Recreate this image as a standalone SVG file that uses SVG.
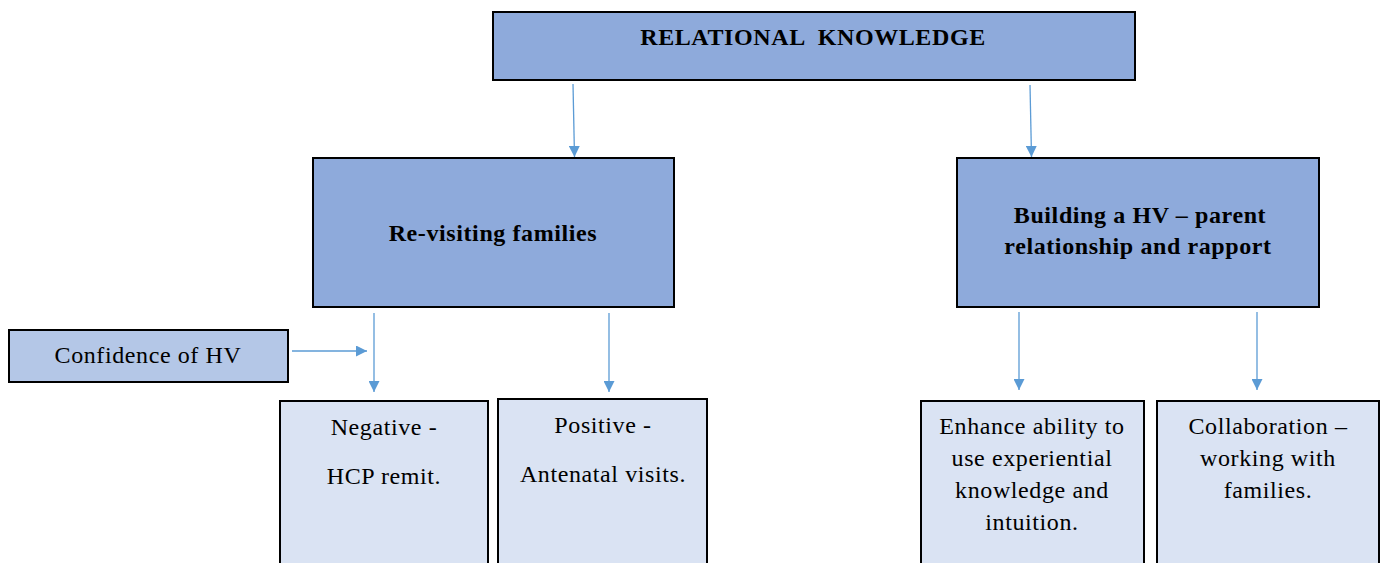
<svg xmlns="http://www.w3.org/2000/svg" width="1384" height="563" viewBox="0 0 1384 563">
  <style>
    .box { stroke: #000; stroke-width: 2; }
    .main { fill: #8eaadb; }
    .side { fill: #b4c7e7; }
    .leaf { fill: #dae3f3; }
    text { font-family: "Liberation Serif", "Times New Roman", serif; font-size: 24px; letter-spacing: 0.6px; fill: #000; text-anchor: middle; white-space: pre; }
    .bold { font-weight: bold; }
    .conn { stroke: #5b9bd5; stroke-width: 1.3; fill: none; marker-end: url(#arrow); }
  </style>
  <defs>
    <marker id="arrow" viewBox="0 0 10 10" refX="10" refY="5" markerWidth="11" markerHeight="11" markerUnits="userSpaceOnUse" orient="auto">
      <path d="M0,0 L10,5 L0,10 z" fill="#5b9bd5"/>
    </marker>
  </defs>
  <rect width="1384" height="563" fill="#fff"/>

  <g id="connectors">
    <line class="conn" x1="573" y1="84" x2="574.5" y2="157"/>
    <line class="conn" x1="1030" y1="85" x2="1031.5" y2="157"/>
    <line class="conn" x1="292" y1="351" x2="367" y2="351"/>
    <line class="conn" x1="374" y1="313" x2="374" y2="392"/>
    <line class="conn" x1="609" y1="313" x2="609" y2="392"/>
    <line class="conn" x1="1019" y1="312" x2="1019" y2="390"/>
    <line class="conn" x1="1257" y1="312" x2="1257" y2="390"/>
  </g>

  <g id="relational-knowledge">
    <rect class="box main" x="493" y="12" width="642" height="68"/>
    <text class="bold" x="813" y="45" xml:space="preserve">RELATIONAL  KNOWLEDGE</text>
  </g>

  <g id="revisiting-families">
    <rect class="box main" x="313" y="158" width="361" height="149"/>
    <text class="bold" x="493" y="241">Re-visiting families</text>
  </g>

  <g id="building-relationship">
    <rect class="box main" x="957" y="158" width="362" height="149"/>
    <text class="bold" x="1140" y="223">Building a HV – parent</text>
    <text class="bold" x="1138" y="254">relationship and rapport</text>
  </g>

  <g id="confidence">
    <rect class="box side" x="9" y="330" width="279" height="52"/>
    <text x="148" y="363">Confidence of HV</text>
  </g>

  <g id="negative">
    <rect class="box leaf" x="280" y="401" width="208" height="170"/>
    <text x="384" y="435">Negative -</text>
    <text x="384" y="484">HCP remit.</text>
  </g>

  <g id="positive">
    <rect class="box leaf" x="498" y="399" width="209" height="172"/>
    <text x="603" y="433">Positive -</text>
    <text x="603" y="482">Antenatal visits.</text>
  </g>

  <g id="enhance-ability">
    <rect class="box leaf" x="921" y="401" width="223" height="170"/>
    <text x="1032" y="434">Enhance ability to</text>
    <text x="1032" y="466">use experiential</text>
    <text x="1032" y="498">knowledge and</text>
    <text x="1032" y="530">intuition.</text>
  </g>

  <g id="collaboration">
    <rect class="box leaf" x="1157" y="401" width="222" height="170"/>
    <text x="1268" y="434">Collaboration –</text>
    <text x="1268" y="466">working with</text>
    <text x="1268" y="498">families.</text>
  </g>
</svg>
